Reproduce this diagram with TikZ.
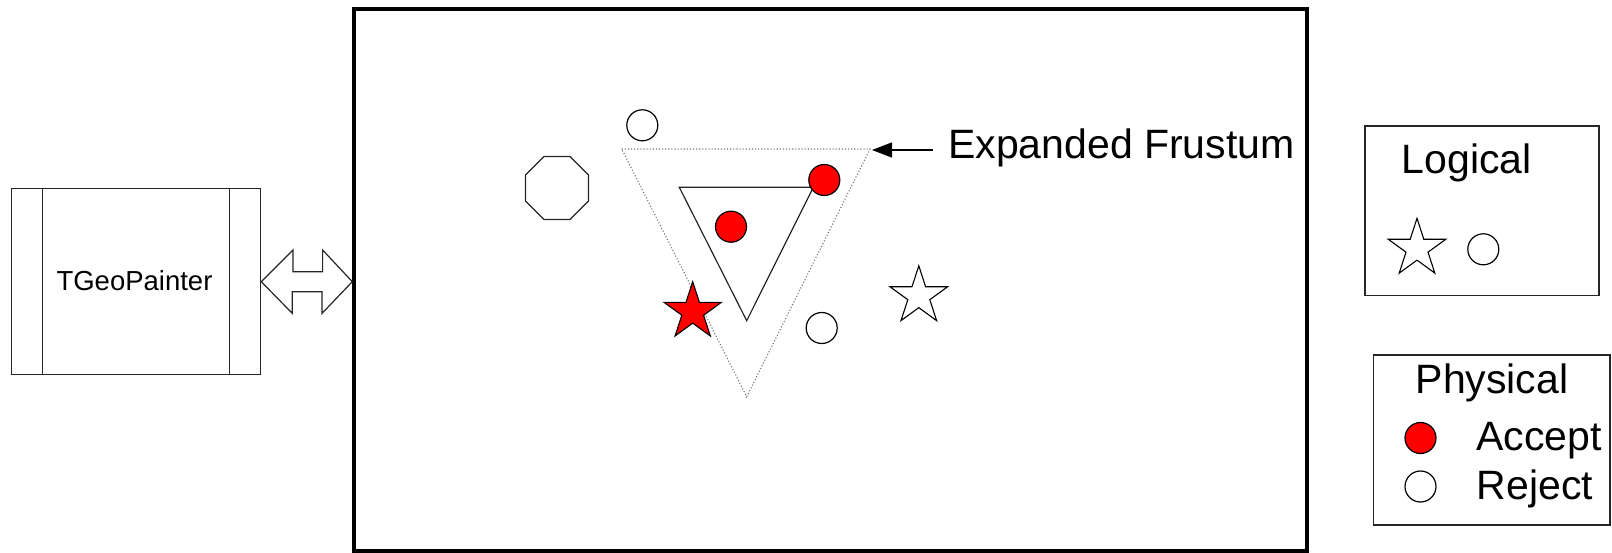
\documentclass[tikz,border=0pt]{standalone}
\usepackage{fontspec}
\setmainfont{Liberation Sans}
\usetikzlibrary{shapes.geometric,arrows.meta}
\begin{document}
\begin{tikzpicture}[x=1pt,y=-1pt,
  thinline/.style={line width=1.2pt, draw=black!85},
  ball/.style={circle, draw, line width=1.2pt, inner sep=0pt, minimum size=31pt},
  accept/.style={ball, fill=red},
  reject/.style={ball, fill=white},
  starmark/.style={star, star points=5, star point ratio=2.618, draw,
    line width=1.1pt, inner sep=0pt, minimum size=60pt},
  bigtext/.style={inner sep=0pt, anchor=base west,
    font=\fontsize{41}{49}\selectfont},
  frustum/.style={draw=black!55, line width=1.1pt, dotted}
]
\useasboundingbox (0,0) rectangle (1612,553);

% painter box with its two side bars
\node[draw, thinline, minimum width=249pt, minimum height=185.7pt, inner sep=0pt]
  (painter) at (136.2,281.7) {};
\draw[thinline] (42.7,188.8) -- (42.7,374.5);
\draw[thinline] (229.3,188.8) -- (229.3,374.5);
\node[inner sep=0pt, anchor=base, font=\fontsize{27.5}{33}\selectfont]
  (painterlabel) at (134.5,290.5) {TGeoPainter};

% viewer frame
\draw[line width=4pt] (354,9) rectangle (1307,551);
\coordinate (viewwest) at (352.3,281.7);

% two-way link between painter and viewer
\draw[thinline, fill=white] (painter.east) -- ++(31.6,-31.7) -- ++(0,21.7) -- ++(29.7,0)
  -- ++(0,-21.7) -- (viewwest) -- ++(-30.3,31.7) -- ++(0,-21.7) -- ++(-29.7,0)
  -- ++(0,21.7) -- cycle;

% expanded frustum (dotted) and frustum (solid)
\coordinate (ftl) at (621.7,149);
\coordinate (ftr) at (870,149);
\coordinate (fbot) at (746.7,396.7);
\draw[frustum] (ftl) -- (ftr) -- (fbot) -- cycle;
\draw[thinline] (679.3,187.3) -- (813.3,187.3) -- (746.7,320.7) -- cycle;

% objects in the scene
\node[reject] (c1) at (642.3,125.3) {};
\node[regular polygon, regular polygon sides=8, draw, thinline, inner sep=0pt,
  minimum size=68.2pt] (oct) at (557,188) {};
\node[accept] (c2) at (824.3,180) {};
\node[accept] (c3) at (731,226.7) {};
\node[starmark, fill=red] (s1) at (692.7,311.7) {};
\node[reject] (c4) at (821.7,328) {};
\node[starmark, fill=white, minimum size=60.6pt] (s2) at (918.8,296.1) {};

% annotation
\node[bigtext] (ef) at (948,158.3) {Expanded Frustum};
\coordinate (efstart) at (933,150);
\coordinate (eftip) at (872,150);
\draw[line width=1.2pt, -{Triangle[length=20pt,width=15pt]}] (efstart) -- (eftip);

% legend: logical shapes
\draw[thinline] (1365,126) rectangle (1599,295.7);
\node[bigtext] (logical) at (1401.7,173.3) {Logical};
\node[starmark, fill=white, minimum size=60.6pt] (ls) at (1417,248.6) {};
\node[reject] (lc) at (1483.3,249.3) {};

% legend: physical volumes
\draw[thinline] (1373.3,355) rectangle (1610,525);
\node[bigtext] (physical) at (1415.5,393.5) {Physical};
\node[accept] (pa) at (1420.5,438) {};
\node[bigtext] (accepttext) at (1476,450) {Accept};
\node[reject] (pr) at (1420.5,486.5) {};
\node[bigtext] (rejecttext) at (1476.5,499.5) {Reject};
\end{tikzpicture}
\end{document}
